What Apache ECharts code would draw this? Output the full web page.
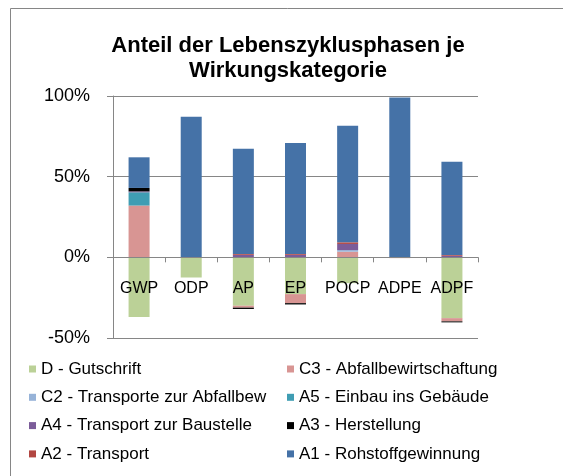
<!DOCTYPE html>
<html>
<head>
<meta charset="utf-8">
<script src="https://cdn.jsdelivr.net/npm/echarts@6/dist/echarts.min.js"></script>
<style>
  html, body { margin: 0; padding: 0; background: #fff; }
  #chart { width: 563px; height: 476px; }
</style>
</head>
<body>
<div id="chart"></div>
<script>
const categories = ['GWP', 'ODP', 'AP', 'EP', 'POCP', 'ADPE', 'ADPF'];

// Anteil in % je Lebenszyklusphase
const dGutschrift = [-37, -12.5, -30, -22.8, -16, 0, -37.7];
const c3Abfall = [32.1, 0, -1.2, -5.6, 3.5, -0.5, -2];
const c2Transporte = [0, 0, 0, 0, 1, 0, 0];
const a5Einbau = [8.2, 0, 0, 0, 0, 0, 0];
const a4Baustelle = [0.6, 0, 1.5, 1.5, 3.8, 0, 1];
const a3Herstellung = [2.1, 0, -0.8, -0.8, 0, 0, -0.6];
const a2Transport = [0, 0, 0.5, 0.5, 1, 0, 0.5];
const a1Rohstoff = [19, 87.2, 65.3, 68.8, 72.2, 99, 57.8];

const yTicks = [-50, 0, 50, 100];

const seriesDefs = [
  { name: 'D - Gutschrift', data: dGutschrift, color: '#BBD197' },
  { name: 'C3 - Abfallbewirtschaftung', data: c3Abfall, color: '#D89593' },
  { name: 'C2 - Transporte zur Abfallbew', data: c2Transporte, color: '#97B3D8' },
  { name: 'A5 - Einbau ins Gebäude', data: a5Einbau, color: '#3F9DB3' },
  { name: 'A4 - Transport zur Baustelle', data: a4Baustelle, color: '#7B5C99' },
  { name: 'A3 - Herstellung', data: a3Herstellung, color: '#000000' },
  { name: 'A2 - Transport', data: a2Transport, color: '#B24641' },
  { name: 'A1 - Rohstoffgewinnung', data: a1Rohstoff, color: '#4572A7' },
];

const font = '"Liberation Sans", Arial, sans-serif';
const gray = '#868686';

const legendBase = {
  orient: 'vertical',
  top: 355,
  icon: 'rect',
  itemWidth: 7,
  itemHeight: 7,
  itemGap: 10.3,
  textStyle: { fontFamily: font, fontSize: 17, color: '#000', lineHeight: 18 },
  selectedMode: false,
};

const chart = echarts.init(document.getElementById('chart'));
chart.setOption({
  animation: false,
  color: seriesDefs.map(s => s.color),
  title: {
    text: 'Anteil der Lebenszyklusphasen je\nWirkungskategorie',
    left: 283,
    top: 28,
    textAlign: 'center',
    textStyle: { fontFamily: font, fontSize: 22, fontWeight: 'bold', color: '#000', lineHeight: 25 },
  },
  graphic: [{
    type: 'rect',
    shape: { x: 10.5, y: 8.5, width: 600, height: 500 },
    style: { fill: 'none', stroke: gray, lineWidth: 1 },
    silent: true,
  }],
  legend: [
    Object.assign({}, legendBase, {
      left: 24,
      data: ['D - Gutschrift', 'C2 - Transporte zur Abfallbew', 'A4 - Transport zur Baustelle', 'A2 - Transport'],
    }),
    Object.assign({}, legendBase, {
      left: 282,
      data: ['C3 - Abfallbewirtschaftung', 'A5 - Einbau ins Gebäude', 'A3 - Herstellung', 'A1 - Rohstoffgewinnung'],
    }),
  ],
  grid: { left: 113, right: 85, top: 96, bottom: 138, containLabel: false },
  xAxis: {
    type: 'category',
    data: categories,
    axisLine: { onZero: true, lineStyle: { color: gray, width: 1 } },
    axisTick: { show: true, length: 5, lineStyle: { color: gray } },
    // labels sit just under the zero line, inside the plot
    axisLabel: { fontFamily: font, fontSize: 16, color: '#000', interval: 0, margin: -57 },
    z: 10,
  },
  yAxis: {
    type: 'value',
    min: yTicks[0],
    max: yTicks[yTicks.length - 1],
    interval: 50,
    axisLine: { show: true, lineStyle: { color: gray, width: 1 } },
    axisTick: { show: true, length: 6, lineStyle: { color: gray } },
    splitLine: { lineStyle: { color: gray, width: 1 } },
    axisLabel: { fontFamily: font, fontSize: 18, color: '#000', margin: 23, formatter: '{value}%' },
  },
  series: seriesDefs.map(s => ({
    name: s.name,
    type: 'bar',
    stack: 'phase',
    barWidth: 21,
    data: s.data,
    itemStyle: { color: s.color },
  })),
});
</script>
</body>
</html>
